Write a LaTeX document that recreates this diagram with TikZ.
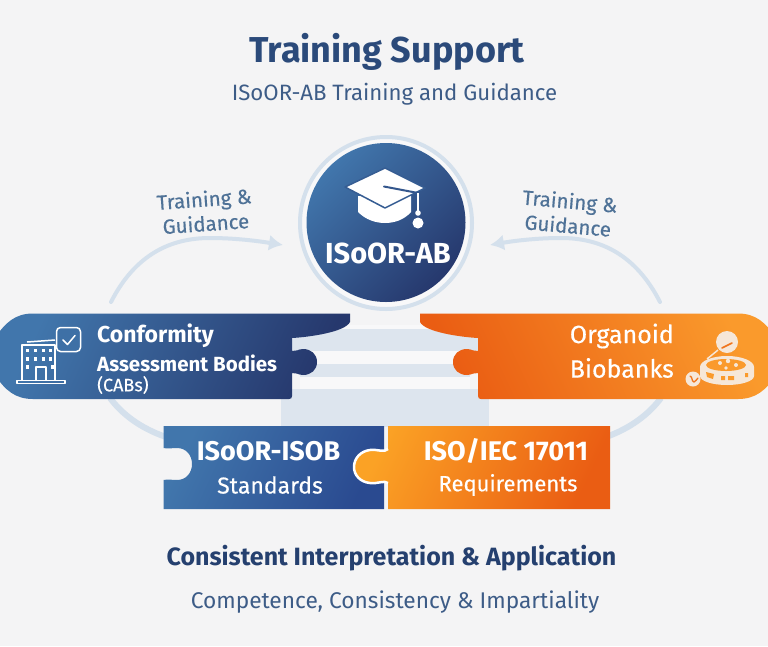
\documentclass[tikz,border=0pt]{standalone}
\usepackage{fontspec}
\setmainfont{Fira Sans}
\newfontfamily\medf[FakeBold=0.4]{Fira Sans}
\usetikzlibrary{arrows.meta}
\definecolor{bgc}{HTML}{F4F4F5}
\definecolor{ringc}{HTML}{D4E0EC}
\definecolor{pedc}{HTML}{DDE5EE}
\definecolor{gapc}{HTML}{F8F8F9}
\definecolor{navy}{HTML}{2B4A7A}
\definecolor{navyb}{HTML}{25406F}
\definecolor{midb}{HTML}{3D5C87}
\definecolor{slate}{HTML}{4F7297}
\definecolor{cream}{HTML}{F6E7D8}
\definecolor{bluea}{HTML}{4176AC}
\definecolor{blueb}{HTML}{26386D}
\definecolor{bluec}{HTML}{2A4A90}
\definecolor{orga}{HTML}{FA9A2C}
\definecolor{orgb}{HTML}{EA5D13}
\definecolor{orgc}{HTML}{FBA225}
\tikzset{
  lbl/.style={inner sep=0pt,text=white,font=\fontsize{#1}{#1}\selectfont\bfseries},
  reg/.style={inner sep=0pt,text=white,font=\medf\fontsize{#1}{#1}\selectfont},
  guide/.style={inner sep=0pt,align=center,text=slate,font=\medf\fontsize{20.5}{24.5}\selectfont},
  flow/.style={draw=ringc,line width=4pt,line cap=round,-{Latex[length=14pt,width=16pt]}},
  backarc/.style={draw=ringc,line width=6pt},
  ped/.style={fill=pedc,draw=none},
  gap/.style={fill=gapc,draw=none},
  icon/.style={draw=white,line width=1.5pt,line join=round},
}
\begin{document}
\begin{tikzpicture}[x=1pt,y=-1pt]
\path[use as bounding box,fill=bgc] (0,0) rectangle (768,646);
\clip (0,0) rectangle (768,646);

% titles
\node[inner sep=0pt,text=navy,font=\fontsize{36}{36}\selectfont\bfseries] (title) at (387,52) {Training Support};
\node[inner sep=0pt,text=midb,font=\fontsize{22.2}{22.2}\selectfont] (subtitle) at (394.5,94) {ISoOR-AB Training and Guidance};

% free ends of the connectors
\coordinate (ls) at (111,302);
\coordinate (lt) at (283,245);
\coordinate (rs) at (660,302);
\coordinate (rt) at (490,245);
\coordinate (las) at (110,398);
\coordinate (lae) at (166,437);
\coordinate (ras) at (661,398);
\coordinate (rae) at (606,437);

% lower arcs
\draw[backarc] (las) .. controls (122,414) and (140,428) .. (lae);
\draw[backarc] (ras) .. controls (649,414) and (631,428) .. (rae);

% pedestal
\fill[gap] (300,325) rectangle (470,392);
\fill[ped] (292,329) rectangle (478,351);
\fill[ped] (300,364) rectangle (470,377);
\fill[ped] (281,389) rectangle (489,427);

% hub
\draw[draw=ringc,line width=4pt,fill=gapc] (386,223) circle[radius=86];
\node[circle,minimum size=159pt,inner sep=0pt,left color=bluea,right color=blueb,shading angle=45] (hub) at (386,222.5) {};

% graduation cap
\fill[white] (358,196) -- (358,212) .. controls (366,220) and (376,223) .. (385,223) .. controls (394,223) and (404,220) .. (411,212) -- (411,196) -- cycle;
\fill[white,draw=bluea!60!blueb,line width=1.5pt,line join=round] (345,187) -- (385,168) -- (425,188) -- (385,208) -- cycle;
\draw[bluea!50!blueb,line width=2pt,line cap=round] (384,186.5) -- (418,193);
\draw[white,line width=1.5pt] (418,193) -- (418,212);
\fill[white] (418,213) circle[radius=2.8] (418,223) circle[radius=5.5];
\node[lbl=29] (hubtxt) at (388,253) {ISoOR-AB};

% upper arrows
\draw[flow] (ls) .. controls (135,255) and (170,238) .. (210,238) .. controls (235,238) and (258,241) .. (lt);
\draw[flow] (rs) .. controls (636,255) and (601,238) .. (561,238) .. controls (536,238) and (513,241) .. (rt);
\node[guide,rotate=4] (gl) at (205,211) {Training \&\\Guidance};
\node[guide,rotate=-5] (gr) at (569,213) {Training \&\\Guidance};

% left upper piece
\path[left color=bluea,right color=blueb,shading angle=65] (350,313.5) -- (350,322) .. controls (345,332) and (310,337) .. (292,338) -- (292,351)
  .. controls (296,352) and (298,349) .. (303,349) .. controls (311,349) and (317,354) .. (317,362)
  .. controls (317,370) and (311,375) .. (303,375) .. controls (298,375) and (296,372) .. (292,373)
  -- (292,396) .. controls (292,398) and (291,399) .. (289,399) -- (33,399)
  .. controls (15,399) and (5,390) .. (-5,375) -- (-5,338) .. controls (5,323) and (15,313.5) .. (33,313.5) -- cycle;

% right upper piece
\path[left color=orgb,right color=orga,shading angle=115] (420,313.5) -- (420,322) .. controls (425,332) and (460,337) .. (478,338) -- (478,351)
  .. controls (474,352) and (472,349) .. (467,349) .. controls (459,349) and (453,354) .. (453,362)
  .. controls (453,370) and (459,375) .. (467,375) .. controls (472,375) and (474,372) .. (478,373)
  -- (478,396) .. controls (478,398) and (479,399) .. (481,399) -- (738,399)
  .. controls (756,399) and (766,390) .. (776,375) -- (776,338) .. controls (766,323) and (756,313.5) .. (738,313.5) -- cycle;

% lower left piece
\path[left color=bluea,right color=bluec,shading angle=65] (163.5,426) -- (384,426) -- (384,509) -- (163.5,509) -- (163.5,480)
  .. controls (168,479) and (172,480) .. (177,480) .. controls (186,480) and (192,473) .. (192,464)
  .. controls (192,455) and (186,448) .. (177,448) .. controls (172,448) and (168,449) .. (163.5,448) -- cycle;

% lower right piece
\path[left color=orgc,right color=orgb,shading angle=65] (388,426) -- (610,426) -- (610,509) -- (388,509) -- (388,483)
  .. controls (384,480) and (378,484) .. (370,483) .. controls (360,482) and (354,475) .. (354,467)
  .. controls (354,458) and (361,451) .. (370,450) .. controls (378,449) and (384,453) .. (388,449) -- cycle;
\draw[white,line width=2.5pt,line join=round] (388,483)
  .. controls (384,480) and (378,484) .. (370,483) .. controls (360,482) and (354,475) .. (354,467)
  .. controls (354,458) and (361,451) .. (370,450) .. controls (378,449) and (384,453) .. (388,449);

% building icon
\begin{scope}[icon]
\draw (22,381) -- (22,345) -- (55,345) -- (55,381);
\draw (27,342) -- (55,340);
\draw (17,380.5) rectangle (65,383.5);
\draw (36,381) -- (36,367) -- (46,367) -- (46,381);
\end{scope}
\foreach \wx in {27,35,43,50}{\fill[white] (\wx-1.5,348.5) rectangle +(3,3.5);\fill[white] (\wx-1.5,357) rectangle +(3,3.5);}
\fill[white] (25.5,365) rectangle +(3,3.5);\fill[white] (51,365) rectangle +(3,3.5);
\draw[icon,fill=bluea!90!blueb,rounded corners=4pt] (56.5,327.5) rectangle (80.5,351.5);
\draw[icon,line cap=round] (63,340) -- (67.5,344.5) -- (75,335.5);

% piece labels
\node[lbl=23,anchor=west] (conf) at (97,336) {Conformity};
\node[lbl=20.5,anchor=west] (asse) at (97,363) {Assessment Bodies};
\node[inner sep=0pt,text=white,font=\medf\fontsize{18}{18}\selectfont,anchor=west] (cabs) at (97,385) {(CABs)};
\node[reg=25,anchor=east] (orgn) at (674,336) {Organoid};
\node[reg=25,anchor=east] (biob) at (674,368) {Biobanks};

% organoid icon
\fill[cream] (727,342) circle[radius=11];
\draw[orgb!60!orga,line width=1.6pt,line cap=round] (722,348) -- (732,343);
\draw[cream,line width=1.5pt] (718,350) -- (707,359);
\fill[cream] (700,367) .. controls (700,361) and (712,356) .. (727,356) .. controls (742,356) and (754,361) .. (754,367) -- (754,376) .. controls (754,381) and (742,385) .. (727,385) .. controls (712,385) and (700,381) .. (700,376) -- cycle;
\fill[orga] (726,365) ellipse[x radius=20,y radius=6];
\fill[cream] (720,363) circle[radius=2] (728,361) circle[radius=2.2] (736,365) circle[radius=2] (726,368) circle[radius=1.8];
\fill[orga] (706,372) -- (714,374) -- (713,379) -- (707,377) -- cycle (721,376) rectangle (725,380) (728,376) rectangle (734,380) (745,373) rectangle (748,377);
\fill[cream] (693,379) circle[radius=7.5];
\draw[orgb!60!orga,line width=1.3pt,line cap=round] (690,376) .. controls (693,377) and (691,381) .. (694,382) .. controls (696,382) and (696,379) .. (698,378);

% lower labels
\node[lbl=27] (isob) at (268.5,451) {ISoOR-ISOB};
\node[reg=23] (stds) at (270,485) {Standards};
\node[lbl=27] (iso) at (506,451) {ISO/IEC 17011};
\node[reg=22] (reqs) at (508,485) {Requirements};

% footer
\node[inner sep=0pt,text=navyb,font=\fontsize{25}{25}\selectfont\bfseries] (foot1) at (391.5,558) {Consistent Interpretation \& Application};
\node[inner sep=0pt,text=midb,font=\fontsize{22.7}{22.7}\selectfont] (foot2) at (395,602) {Competence, Consistency \& Impartiality};
\end{tikzpicture}
\end{document}
